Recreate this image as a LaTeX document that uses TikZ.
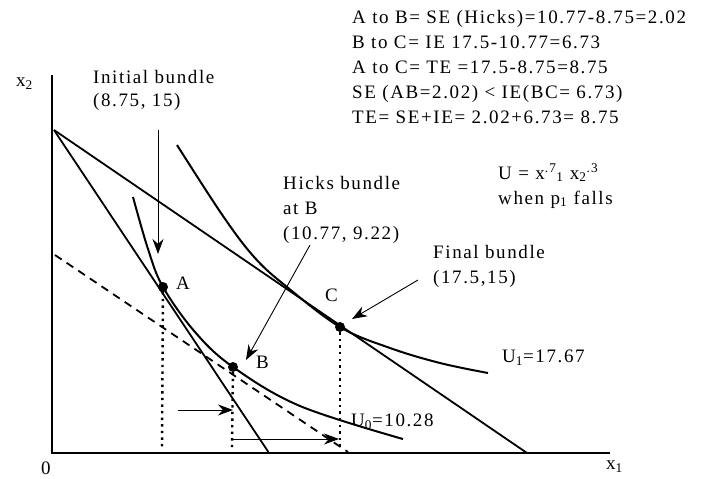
\documentclass[tikz,border=0pt]{standalone}
\usepackage{fontspec}
\setmainfont{Liberation Serif}[LetterSpace=8.5]
\usetikzlibrary{arrows.meta}

\begin{document}
\begin{tikzpicture}[x=1pt, y=-1pt,
  axis/.style={line width=2.6pt},
  curve/.style={line width=2pt},
  budget/.style={line width=1.8pt},
  comp/.style={line width=1.8pt, dash pattern=on 8pt off 6pt},
  drop/.style={line width=2.4pt, dash pattern=on 2.4pt off 4.2pt},
  pointer/.style={-{Stealth[length=15pt,width=11pt]}, line width=0.9pt},
  txt/.style={anchor=west, inner sep=0pt, align=left, font=\fontsize{19}{25}\selectfont},
  dot/.style={circle, fill, inner sep=0pt, minimum size=10pt}
]
\useasboundingbox (0,0) rectangle (710,479);

% axes
\coordinate (O) at (52,453);
\coordinate (ytop) at (52,75);
\coordinate (xend) at (610,453);
\draw[axis] (ytop) -- (O) -- (xend);
\node[txt] (x2lab) at (16,84) {x\textsubscript{2}};
\node[txt] (x1lab) at (606,467) {x\textsubscript{1}};
\node[txt] (zero) at (41,468) {0};

% budget lines
\coordinate (b0) at (54,130);
\coordinate (oldx) at (269,453);
\coordinate (newx) at (527,453);
\coordinate (hs) at (55,255);
\coordinate (he) at (348,452);
\draw[budget] (b0) -- (oldx);
\draw[budget] (b0) -- (newx);
\draw[comp] (hs) -- (he);

% indifference curves
\draw[curve] plot[smooth, tension=0.6] coordinates {(133,197) (148,249) (163,287) (195,332) (233,367) (300,406) (403,439)};
\draw[curve] plot[smooth, tension=0.6] coordinates {(177,145) (223,216) (255,258) (287,287) (340,327) (390,348) (440,363) (488,373)};
\node[txt] (u1lab) at (502,358) {U\textsubscript{1}=17.67};
\node[txt] (u0lab) at (351,422) {U\textsubscript{0}=10.28};

% bundles
\node[dot] (A) at (163,287) {};
\node[dot] (B) at (233,367) {};
\node[dot] (C) at (340,327) {};
\node[txt] (Alab) at (176,283) {A};
\node[txt] (Blab) at (256,362) {B};
\node[txt] (Clab) at (325,295) {C};
\coordinate (Ad) at (162,448);
\coordinate (Bd) at (232,448);
\coordinate (Cd) at (340,448);
\draw[drop] (A) -- (Ad);
\draw[drop] (B) -- (Bd);
\draw[drop] (C) -- (Cd);

% notes
\node[txt] (init) at (93,77) {Initial bundle};
\node[txt] (initxy) at (93,102) {(8.75, 15)};
\node[txt] (hicks) at (283,210) {Hicks bundle\\at B\\(10.77, 9.22)};
\node[txt] (final) at (433,266) {Final bundle\\(17.5,15)};
\node[txt] (calc) at (352,67) {A to B= SE (Hicks)=10.77-8.75=2.02\\B to C= IE 17.5-10.77=6.73\\A to C= TE =17.5-8.75=8.75\\SE (AB=2.02) {\char"3C} IE(BC= 6.73)\\TE= SE+IE= 2.02+6.73= 8.75};
\node[txt] (util) at (498,186) {U = x\textsuperscript{.7}\textsubscript{1} x\textsubscript{2}\textsuperscript{.3}\\when p\textsubscript{1} falls};

% pointers
\coordinate (p1s) at (158,130);
\coordinate (p1e) at (158,254);
\coordinate (p2s) at (310,245);
\coordinate (p2e) at (246,360);
\coordinate (p3s) at (418,280);
\coordinate (p3e) at (352,319);
\coordinate (p4s) at (178,410);
\coordinate (p4e) at (233,410);
\coordinate (p5s) at (232,439);
\coordinate (p5e) at (339,439);
\draw[pointer] (p1s) -- (p1e);
\draw[pointer] (p2s) -- (p2e);
\draw[pointer] (p3s) -- (p3e);
\draw[pointer] (p4s) -- (p4e);
\draw[pointer] (p5s) -- (p5e);
\end{tikzpicture}
\end{document}
